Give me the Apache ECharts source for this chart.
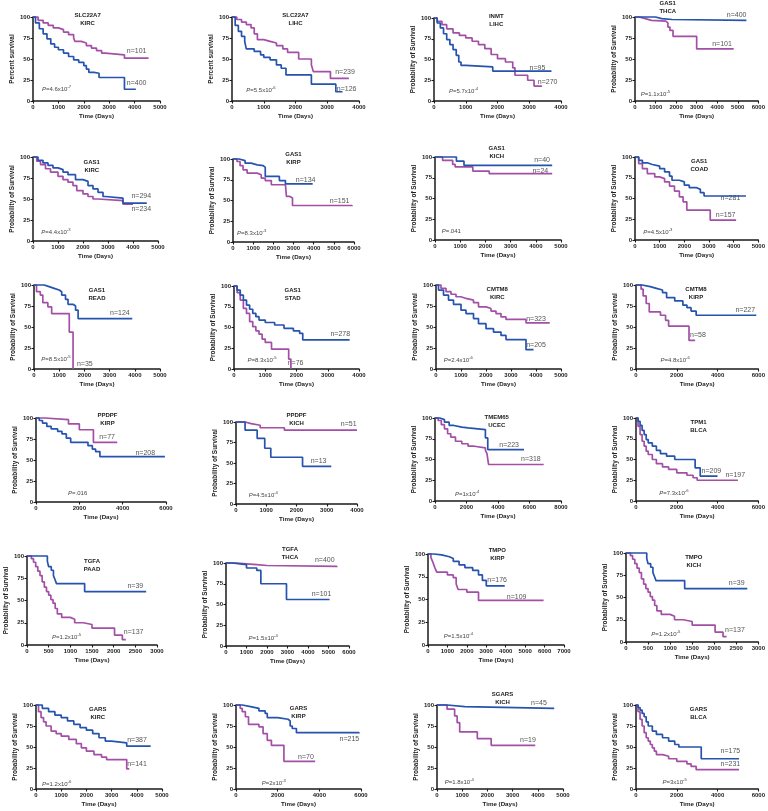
<!DOCTYPE html>
<html><head><meta charset="utf-8">
<script src="https://cdn.jsdelivr.net/npm/echarts@6/dist/echarts.min.js"></script>
<style>html,body{margin:0;padding:0;background:#fff}#c{width:768px;height:811px}</style>
</head><body><div id="c"></div>
<script>
// ---------- DATA ----------
const genes   = ['SLC22A7','SLC22A7','INMT','GAS1','GAS1','GAS1','GAS1','GAS1','GAS1','GAS1','CMTM8','CMTM8','PPDPF','PPDPF','TMEM65','TPM1','TGFA','TGFA','TMPO','TMPO','GARS','GARS','SGARS','GARS'];
const cancers = ['KIRC','LIHC','LIHC','THCA','KIRC','KIRP','KICH','COAD','READ','STAD','KIRC','KIRP','KIRP','KICH','UCEC','BLCA','PAAD','THCA','KIRP','KICH','KIRC','KIRP','KICH','BLCA'];
const xMax  = [5000,4000,4000,6000,5000,6000,5000,5000,5000,4000,5000,6000,6000,4000,8000,6000,3000,6000,7000,3000,5000,6000,5000,6000];
const xStep = [1000,1000,1000,1000,1000,1000,1000,1000,1000,1000,1000,2000,2000,1000,2000,2000,500,1000,1000,500,1000,2000,1000,2000];
const yTicks = [0,25,50,75,100];
const yNames = ['Percent survival','Percent survival'].concat(Array(22).fill('Probability of Survival'));
const nBlue   = ['n=400','n=126','n=95','n=400','n=294','n=134','n=40','n=281','n=124','n=278','n=205','n=227','n=208','n=13','n=223','n=209','n=39','n=101','n=176','n=39','n=387','n=215','n=45','n=175'];
const nPurple = ['n=101','n=239','n=270','n=101','n=234','n=151','n=24','n=157','n=35','n=76','n=323','n=58','n=77','n=51','n=318','n=197','n=137','n=400','n=109','n=137','n=141','n=70','n=19','n=231'];
// P values: [mantissa text, exponent] (exponent null => plain)
const pMant = ['4.6x10','5.5x10','5.7x10','1.1x10','4.4x10','8.3x10','.041','4.5x10','8.5x10','8.3x10','2.4x10','4.8x10','.016','4.5x10','1x10','7.3x10','1.2x10','1.5x10','1.5x10','1.2x10','1.2x10','2x10','1.8x10','3x10'];
const pExp  = ['-7','-6','-4','-5','-3','-3',null,'-3','-5','-5','-6','-6',null,'-4','-4','-6','-5','-4','-4','-5','-6','-3','-4','-5'];

// survival curves [days, percent]
const p01b=[[0,100],[100,93],[250,86],[400,80],[550,74],[700,68],[850,64],[1000,61],[1200,57],[1400,53],[1600,49],[1800,46],[2000,42],[2100,38],[2200,34],[2400,33],[2600,28],[3600,14],[4050,14]];
const p01p=[[0,100],[200,96],[400,93],[600,90],[800,87],[1000,85],[1200,82],[1400,79],[1600,75],[1650,71],[1900,69],[2100,66],[2300,63],[2500,60],[2700,57],[2850,55],[3600,51],[4550,51]];
const p02b=[[0,100],[100,90],[200,83],[300,77],[400,71],[450,62],[700,59],[900,55],[1000,52],[1200,49],[1400,43],[1550,39],[1700,31],[2500,20],[3270,11],[3480,11]];
const p02p=[[0,100],[150,97],[300,94],[450,91],[600,87],[700,80],[800,73],[1000,71],[1200,69],[1400,66],[1600,62],[1750,58],[2100,50],[2500,43],[2560,35],[3100,27],[3680,27]];
const p03b=[[0,100],[100,94],[200,88],[300,81],[400,74],[500,68],[600,62],[700,55],[780,47],[850,43],[1000,41],[1850,36],[3700,36]];
const p03p=[[0,100],[100,96],[250,92],[400,87],[600,82],[800,79],[1000,76],[1200,72],[1400,68],[1600,63],[1800,56],[2000,51],[2250,47],[2480,40],[2550,31],[2950,25],[3150,18],[3400,18]];
const p04b=[[0,100],[1000,98],[1300,97],[1800,96],[5420,96]];
const p04p=[[0,100],[200,98],[500,96],[800,95],[1500,93],[1600,88],[1700,84],[1850,77],[3000,62],[4800,62]];
const p05b=[[0,100],[200,96],[400,93],[600,90],[800,87],[1000,85],[1200,82],[1400,79],[1700,73],[2000,71],[2200,66],[2400,62],[2600,58],[2800,53],[2900,51],[3600,45],[4550,45]];
const p05p=[[0,100],[150,95],[300,91],[500,86],[700,82],[1000,77],[1200,73],[1400,70],[1600,66],[1750,60],[2000,56],[2200,53],[2400,50],[2600,48],[3600,44],[4000,44]];
const p06b=[[0,100],[300,98],[600,95],[900,93],[1200,92],[1500,90],[1600,79],[2300,74],[2600,70],[3950,70]];
const p06p=[[0,100],[200,97],[350,92],[500,87],[700,83],[1200,81],[1400,77],[1600,74],[1900,69],[2600,67],[2650,55],[2800,53],[2950,44],[5900,43]];
const p07b=[[0,100],[850,95],[1150,90],[4650,90]];
const p07p=[[0,100],[300,96],[700,91],[800,88],[1500,83],[2150,80],[4650,80]];
const p08b=[[0,100],[150,96],[300,93],[500,91],[700,89],[1000,86],[1200,82],[1400,77],[1500,72],[1800,70],[2000,66],[2200,63],[2500,61],[2650,57],[2800,53],[4500,53]];
const p08p=[[0,100],[150,92],[300,86],[500,80],[800,76],[1000,74],[1200,70],[1400,65],[1600,59],[1800,52],[1950,46],[2100,36],[3050,24],[4100,24]];
const p09b=[[0,100],[400,98],[600,96],[800,94],[1000,92],[1100,88],[1250,83],[1350,77],[1550,75],[1650,70],[1750,60],[3900,60]];
const p09p=[[0,100],[100,92],[250,88],[350,79],[550,74],[700,66],[1400,44],[1550,0]];
const p10b=[[0,100],[100,95],[200,89],[300,83],[400,77],[500,72],[600,67],[700,63],[800,59],[1000,56],[1300,53],[1600,49],[1900,46],[2100,43],[2200,35],[3700,35]];
const p10p=[[0,100],[100,92],[200,83],[300,73],[400,67],[500,57],[600,51],[700,46],[800,42],[900,36],[1000,32],[1200,24],[1750,12],[1820,0]];
const p11b=[[0,100],[100,94],[300,88],[500,82],[700,77],[1000,70],[1200,66],[1500,60],[1700,54],[2000,48],[2300,44],[2600,40],[2800,35],[3600,23],[3900,23]];
const p11p=[[0,100],[200,96],[400,92],[600,89],[800,86],[1000,84],[1200,82],[1500,79],[1700,74],[2000,72],[2200,69],[2400,66],[2600,62],[2800,59],[3600,55],[4550,55]];
const p12b=[[0,100],[300,98],[700,96],[1000,94],[1300,91],[1500,85],[1900,81],[2300,76],[2500,73],[2700,69],[2950,64],[5900,64]];
const p12p=[[0,100],[250,95],[350,87],[500,78],[650,68],[1200,64],[1450,58],[1600,51],[2600,34],[2900,34]];
const p13b=[[0,100],[150,97],[300,94],[500,90],[700,87],[1000,84],[1200,81],[1400,76],[1600,71],[2400,67],[2600,63],[2750,60],[2950,54],[5950,54]];
const p13p=[[0,100],[400,98],[1500,93],[2000,86],[2650,71],[3750,71]];
const p14b=[[0,100],[300,90],[700,80],[950,68],[1150,57],[2200,46],[3150,46]];
const p14p=[[0,100],[300,98],[500,96],[800,93],[1600,90],[4000,90]];
const p15b=[[0,100],[300,98],[600,95],[900,91],[1200,89],[1700,88],[2100,86],[3200,76],[3350,62],[5650,62]];
const p15p=[[0,100],[200,97],[400,92],[600,87],[800,81],[1000,77],[1300,72],[1700,69],[2100,66],[2500,64],[3200,61],[3300,57],[3400,44],[6900,44]];
const p16b=[[0,100],[100,96],[200,91],[300,85],[400,80],[500,74],[600,70],[800,66],[1000,61],[1200,57],[1500,54],[1900,50],[2900,40],[3150,30],[4000,30]];
const p16p=[[0,100],[100,90],[200,80],[300,72],[400,66],[500,60],[600,56],[800,50],[1000,45],[1300,41],[1600,38],[2000,34],[2500,31],[2800,28],[3000,25],[5000,25]];
const p17b=[[0,100],[470,94],[500,88],[560,84],[610,78],[650,73],[680,69],[1330,60],[2750,60]];
const p17p=[[0,100],[100,97],[150,93],[200,88],[250,83],[300,78],[350,71],[400,65],[450,60],[500,56],[550,51],[600,47],[650,41],[700,35],[800,31],[1000,29],[1100,25],[1300,23],[1500,19],[2020,11],[2200,6],[2280,6]];
const p18b=[[0,100],[300,98],[1000,94],[1500,91],[1700,75],[2950,56],[5050,56]];
const p18p=[[0,100],[500,99],[1000,98],[1500,97],[2000,96],[5400,95]];
const p19b=[[0,100],[300,99],[700,97],[1100,95],[1300,92],[1600,88],[1900,85],[2300,82],[2600,77],[2800,71],[3000,65],[3950,65]];
const p19p=[[0,100],[150,96],[250,91],[350,85],[450,80],[1000,77],[1300,74],[1450,67],[1550,61],[2000,58],[2600,49],[5950,49]];
const p20b=[[0,100],[470,94],[500,88],[560,84],[610,78],[650,73],[680,69],[1330,60],[2750,60]];
const p20p=[[0,100],[100,97],[150,93],[200,88],[250,83],[300,78],[350,71],[400,65],[450,60],[500,56],[550,51],[600,47],[650,41],[700,35],[800,31],[1000,29],[1100,25],[1300,23],[1500,19],[2020,11],[2200,6],[2280,6]];
const p21b=[[0,100],[250,96],[500,92],[750,88],[1000,85],[1250,81],[1500,77],[1750,73],[2000,70],[2250,66],[2500,61],[2750,57],[3000,55],[3600,51],[4550,51]];
const p21p=[[0,100],[100,92],[200,85],[300,80],[400,75],[600,69],[800,66],[1000,63],[1300,59],[1600,54],[1800,49],[2000,45],[2300,41],[2600,38],[2800,35],[3600,24],[3700,24]];
const p22b=[[0,100],[300,98],[700,96],[1100,93],[1400,90],[1500,85],[2000,83],[2500,81],[2600,75],[2700,72],[2900,67],[5900,66]];
const p22p=[[0,100],[200,96],[300,92],[450,86],[600,77],[1100,74],[1300,66],[1500,58],[1700,52],[2300,33],[3800,33]];
const p23b=[[0,100],[400,98],[1100,96],[4650,96]];
const p23p=[[0,100],[400,95],[700,87],[800,79],[900,68],[1600,60],[2150,52],[3900,52]];
const p24b=[[0,100],[100,97],[200,94],[300,90],[400,86],[500,80],[600,75],[800,69],[1000,65],[1300,61],[1600,57],[1900,53],[2100,50],[3200,36],[5050,36]];
const p24p=[[0,100],[100,92],[200,83],[300,75],[400,67],[500,61],[600,57],[700,53],[800,49],[900,45],[1000,41],[1300,39],[1600,36],[2000,33],[2500,30],[2700,27],[2950,23],[5050,23]];
const blueCurves  =[p01b,p02b,p03b,p04b,p05b,p06b,p07b,p08b,p09b,p10b,p11b,p12b,p13b,p14b,p15b,p16b,p17b,p18b,p19b,p20b,p21b,p22b,p23b,p24b];
const purpleCurves=[p01p,p02p,p03p,p04p,p05p,p06p,p07p,p08p,p09p,p10p,p11p,p12p,p13p,p14p,p15p,p16p,p17p,p18p,p19p,p20p,p21p,p22p,p23p,p24p];

// ---------- LAYOUT (not data) ----------
const grids = [[33,17,127,84],[232,17,127,84],[434,18,127,83],[635,17,126,84],
 [33,157,125,84],[233,159,121,83],[435,157,126,83],[635,157,126,83],
 [34,285,126,84],[234,286,125,83],[436,285,125,84],[636,285,125,84],
 [36,418,130,84],[236,422,121,82],[435,418,126,83],[636,418,125,83],
 [27,556,130,89],[226,563,123,83],[428,554,136,91],[626,553,133,89],
 [36,705,126,84],[236,705,125,84],[437,705,126,84],[636,705,125,84]];
// title: [fraction of width, first-line center offset from grid top]
const titlePos = [[0.43,-2],[0.5,-2],[0.49,-2],[0.26,-14],[0.47,5],[0.5,-5],[0.49,-9],[0.51,4],[0.5,5],[0.47,4],[0.49,4],[0.48,4],
 [0.55,-3],[0.5,-7],[0.49,-1],[0.5,4],[0.5,5],[0.52,-14],[0.51,-4],[0.51,4],[0.49,4],[0.5,3],[0.52,-11],[0.5,4]];
// label anchors in data coordinates
const nBluePos = [[4080,21],[3610,14],[3260,40],[4945,102],[4330,53],[3600,75],[4250,96],[3870,50],[3410,67],[3400,42],[4000,28],[5360,70],[5045,58],[2730,52],[4710,67],[3700,36],[2500,66],[4660,62],[3560,71],[2510,66],[4010,58],[5440,60],[4045,102],[4630,45]];
const nPurplePos = [[4080,59],[3560,34],[3580,23],[4235,68],[4330,38],[5290,49],[4180,83],[3675,30],[2015,6],[1970,7],[4000,60],[3040,40],[3280,77],[3725,97],[6090,50],[4870,31],[2460,14],[4820,103],[4560,53],[2470,13],[4010,30],[3360,38],[3610,58],[4630,30]];
const pPos = [[350,14],[450,13],[470,12],[285,8],[333,10],[200,10],[265,10],[330,9],[290,11],[430,11],[305,10],[1200,10],[1480,10],[420,10],[1270,8],[1140,9],[575,9],[1100,9],[810,9],[570,9],[240,6],[1230,7],[305,8],[1300,8]];

const BLUE='#2553ad', PURPLE='#a34fa6', FONT='Liberation Sans, Arial, sans-serif';

const chart = echarts.init(document.getElementById('c'), null, {renderer:'canvas'});
const gridOpt=[], xAxes=[], yAxes=[], series=[];
grids.forEach((g,i)=>{
  gridOpt.push({left:g[0], top:g[1], width:g[2], height:g[3], containLabel:false});
  const axLine = {show:true, lineStyle:{color:'#1a1a1a', width:1.5}};
  const tick = {show:true, length:2.5, lineStyle:{color:'#1a1a1a', width:1.1}};
  const lab = {fontSize:6, fontWeight:'bold', color:'#222', margin:3, fontFamily:FONT, formatter:(v)=>String(v)};
  xAxes.push({gridIndex:i, type:'value', min:0, max:xMax[i], interval:xStep[i],
    name:'Time (Days)', nameLocation:'middle', nameGap:12,
    nameTextStyle:{fontSize:6.2, fontWeight:'bold', color:'#222', fontFamily:FONT},
    axisLine:axLine, axisTick:tick, axisLabel:lab, splitLine:{show:false}});
  yAxes.push({gridIndex:i, type:'value', min:yTicks[0], max:yTicks[yTicks.length-1], interval:25,
    name:yNames[i], nameLocation:'middle', nameGap:18,
    nameTextStyle:{fontSize:6.4, fontWeight:'bold', color:'#222', fontFamily:FONT},
    axisLine:axLine, axisTick:tick, axisLabel:lab, splitLine:{show:false}});
  series.push({type:'line', xAxisIndex:i, yAxisIndex:i, step:'end', data:purpleCurves[i], symbol:'none', clip:false,
    lineStyle:{color:PURPLE, width:1.7}, itemStyle:{color:PURPLE}, silent:true});
  series.push({type:'line', xAxisIndex:i, yAxisIndex:i, step:'end', data:blueCurves[i], symbol:'none', clip:false,
    lineStyle:{color:BLUE, width:1.7}, itemStyle:{color:BLUE}, silent:true});
});
chart.setOption({animation:false, textStyle:{fontFamily:FONT}, grid:gridOpt, xAxis:xAxes, yAxis:yAxes, series:series});

const gfx=[];
grids.forEach((g,i)=>{
  gfx.push({type:'text', x:g[0]+g[2]*titlePos[i][0], y:g[1]+titlePos[i][1]-4, silent:true,
    style:{text:genes[i]+'\n'+cancers[i], fontSize:6, fontWeight:'bold', fill:'#222', align:'center', verticalAlign:'top', lineHeight:8, fontFamily:FONT}});
  const a = chart.convertToPixel({gridIndex:i}, nBluePos[i]);
  gfx.push({type:'text', x:a[0], y:a[1], silent:true, style:{text:nBlue[i], fontSize:7, fill:'#555', align:'center', verticalAlign:'middle', fontFamily:FONT}});
  const b = chart.convertToPixel({gridIndex:i}, nPurplePos[i]);
  gfx.push({type:'text', x:b[0], y:b[1], silent:true, style:{text:nPurple[i], fontSize:7, fill:'#555', align:'center', verticalAlign:'middle', fontFamily:FONT}});
  const c = chart.convertToPixel({gridIndex:i}, pPos[i]);
  const t = '{i|P}{r|=' + pMant[i] + '}' + (pExp[i] ? '{s|' + pExp[i] + '}' : '');
  gfx.push({type:'text', x:c[0], y:c[1], silent:true, style:{text:t, align:'left', verticalAlign:'middle', fill:'#444', fontFamily:FONT,
    rich:{i:{fontSize:6, fontStyle:'italic', fill:'#444', lineHeight:9, fontFamily:FONT},
          r:{fontSize:6, fill:'#444', lineHeight:9, fontFamily:FONT},
          s:{fontSize:4.2, fill:'#444', lineHeight:4, verticalAlign:'top', fontFamily:FONT}}}});
});
chart.setOption({graphic:{elements:gfx}});
</script></body></html>
